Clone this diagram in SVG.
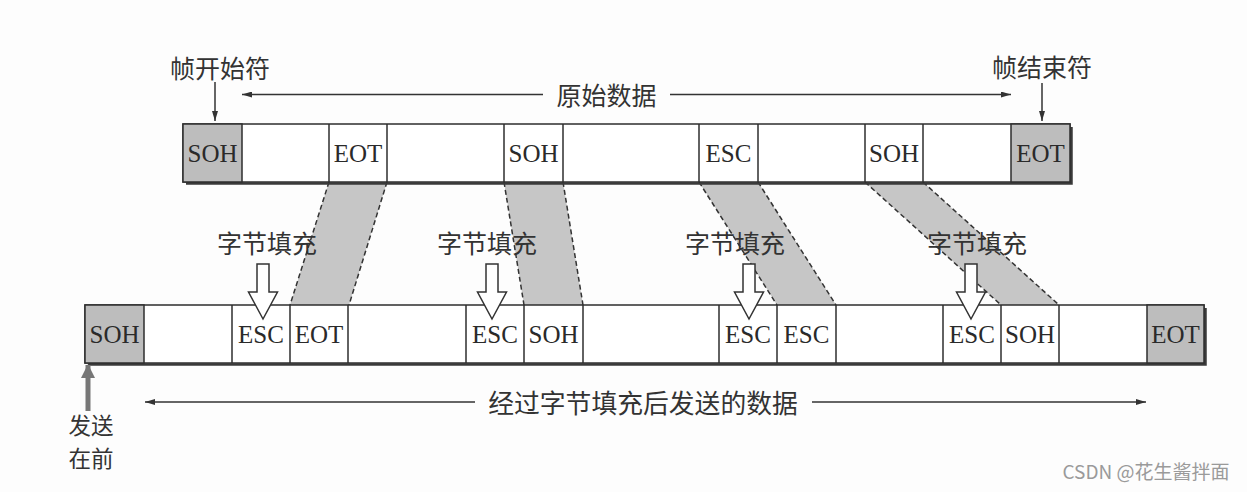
<svg xmlns="http://www.w3.org/2000/svg" width="1247" height="492" viewBox="0 0 1247 492">
<defs>
<marker id="ah" viewBox="0 0 10 6" refX="10" refY="3" markerWidth="10" markerHeight="6" markerUnits="userSpaceOnUse" orient="auto">
<path d="M0,0 L10,3 L0,6 Z" fill="#333"/>
</marker>
<marker id="ahg" viewBox="0 0 14 14" refX="13" refY="7" markerWidth="14" markerHeight="14" markerUnits="userSpaceOnUse" orient="auto">
<path d="M0,0 L14,7 L0,14 Z" fill="#777"/>
</marker>
<style>
.bar{fill:#fff;stroke:#2e2e2e;stroke-width:1.5}
.shadow{fill:none;stroke:#3a3a3a;stroke-width:2.5}
.gray{fill:#bdbdbd;stroke:#2e2e2e;stroke-width:1.5}
.div{stroke:#2e2e2e;stroke-width:1.5}
.cell{font-family:"Liberation Serif",serif;font-size:25px;fill:#2a2a2a;text-anchor:middle}
.cjk{font-family:"Noto Sans CJK SC",sans-serif;font-size:25px;fill:#333;text-anchor:middle}
.band{fill:#c6c6c6;stroke:none}
.dash{stroke:#333;stroke-width:1.5;stroke-dasharray:5 3;fill:none}
.line{stroke:#333;stroke-width:1.5;fill:none}
.hollow{fill:#fff;stroke:#333;stroke-width:1.5;stroke-linejoin:miter}
</style>
</defs>
<rect width="1247" height="492" fill="#fdfdfd"/>

<g id="bands">
<polygon class="band" points="329,182 387,182 349,305 290,305"/>
<line class="dash" x1="329" y1="182" x2="290" y2="305"/>
<line class="dash" x1="387" y1="182" x2="349" y2="305"/>
<polygon class="band" points="504,182 563,182 583,305 524,305"/>
<line class="dash" x1="504" y1="182" x2="524" y2="305"/>
<line class="dash" x1="563" y1="182" x2="583" y2="305"/>
<polygon class="band" points="699,182 758,182 836,305 777,305"/>
<line class="dash" x1="699" y1="182" x2="777" y2="305"/>
<line class="dash" x1="758" y1="182" x2="836" y2="305"/>
<polygon class="band" points="865,182 923,182 1059,305 1001,305"/>
<line class="dash" x1="865" y1="182" x2="1001" y2="305"/>
<line class="dash" x1="923" y1="182" x2="1059" y2="305"/>
</g>

<g id="original-frame">
<polyline class="shadow" points="186,183.5 1071.5,183.5 1071.5,127"/>
<rect class="bar" x="183" y="124" width="887" height="58"/>
<rect class="gray" x="183" y="124" width="59" height="58"/>
<rect class="gray" x="1011" y="124" width="59" height="58"/>
<g class="div">
<line x1="329" y1="124" x2="329" y2="182"/><line x1="387" y1="124" x2="387" y2="182"/>
<line x1="504" y1="124" x2="504" y2="182"/><line x1="563" y1="124" x2="563" y2="182"/>
<line x1="699" y1="124" x2="699" y2="182"/><line x1="758" y1="124" x2="758" y2="182"/>
<line x1="865" y1="124" x2="865" y2="182"/><line x1="923" y1="124" x2="923" y2="182"/>
</g>
<text class="cell" x="212.5" y="162">SOH</text>
<text class="cell" x="358" y="162">EOT</text>
<text class="cell" x="533.5" y="162">SOH</text>
<text class="cell" x="728.5" y="162">ESC</text>
<text class="cell" x="894" y="162">SOH</text>
<text class="cell" x="1040.5" y="162">EOT</text>
</g>

<g id="stuffed-frame">
<polyline class="shadow" points="88,364.5 1205.5,364.5 1205.5,308"/>
<rect class="bar" x="85" y="305" width="1119" height="58"/>
<rect class="gray" x="85" y="305" width="59" height="58"/>
<rect class="gray" x="1147" y="305" width="57" height="58"/>
<g class="div">
<line x1="232" y1="305" x2="232" y2="363"/><line x1="290" y1="305" x2="290" y2="363"/><line x1="348" y1="305" x2="348" y2="363"/>
<line x1="466" y1="305" x2="466" y2="363"/><line x1="524" y1="305" x2="524" y2="363"/><line x1="583" y1="305" x2="583" y2="363"/>
<line x1="719" y1="305" x2="719" y2="363"/><line x1="777" y1="305" x2="777" y2="363"/><line x1="836" y1="305" x2="836" y2="363"/>
<line x1="943" y1="305" x2="943" y2="363"/><line x1="1001" y1="305" x2="1001" y2="363"/><line x1="1059" y1="305" x2="1059" y2="363"/>
</g>
<text class="cell" x="114.5" y="343">SOH</text>
<text class="cell" x="261" y="343">ESC</text>
<text class="cell" x="319" y="343">EOT</text>
<text class="cell" x="495" y="343">ESC</text>
<text class="cell" x="553.5" y="343">SOH</text>
<text class="cell" x="748" y="343">ESC</text>
<text class="cell" x="806.5" y="343">ESC</text>
<text class="cell" x="972" y="343">ESC</text>
<text class="cell" x="1030" y="343">SOH</text>
<text class="cell" x="1175.5" y="343">EOT</text>
</g>

<g id="connectors">
<line class="line" x1="215" y1="82" x2="215" y2="121" marker-end="url(#ah)"/>
<line class="line" x1="1042" y1="83" x2="1042" y2="121" marker-end="url(#ah)"/>
<line class="line" x1="543" y1="94.5" x2="242" y2="94.5" marker-end="url(#ah)"/>
<line class="line" x1="670" y1="94.5" x2="1011" y2="94.5" marker-end="url(#ah)"/>
<line class="line" x1="475" y1="402" x2="145" y2="402" marker-end="url(#ah)"/>
<line class="line" x1="812" y1="402" x2="1146" y2="402" marker-end="url(#ah)"/>
<line x1="88" y1="411" x2="88" y2="365" stroke="#777" stroke-width="5" marker-end="url(#ahg)"/>
<path class="hollow" d="M257,264 H269 V292 H277.5 L263,319 L248.5,292 H257 Z"/>
<path class="hollow" d="M486,264 H498 V292 H506.5 L492,319 L477.5,292 H486 Z"/>
<path class="hollow" d="M743,264 H755 V292 H763.5 L749,319 L734.5,292 H743 Z"/>
<path class="hollow" d="M965,264 H977 V292 H985.5 L971,319 L956.5,292 H965 Z"/>
</g>

<g id="labels">
<text class="cjk" x="220" y="77.5">帧开始符</text>
<text class="cjk" x="1042" y="76.5">帧结束符</text>
<text class="cjk" x="606.5" y="104.5">原始数据</text>
<text class="cjk" x="267" y="252.5">字节填充</text>
<text class="cjk" x="487" y="252.5">字节填充</text>
<text class="cjk" x="735" y="252.5">字节填充</text>
<text class="cjk" x="977" y="252.5">字节填充</text>
<text class="cjk" x="643" y="412.5" style="font-size:25.8px">经过字节填充后发送的数据</text>
<text class="cjk" x="91" y="434" style="font-size:22.5px">发送</text>
<text class="cjk" x="91" y="467" style="font-size:22.5px">在前</text>
<text x="1146" y="479" style="font-family:'Noto Sans CJK SC',sans-serif;font-size:19px;fill:#9a9a9a;text-anchor:middle">CSDN @花生酱拌面</text>
</g>
</svg>
